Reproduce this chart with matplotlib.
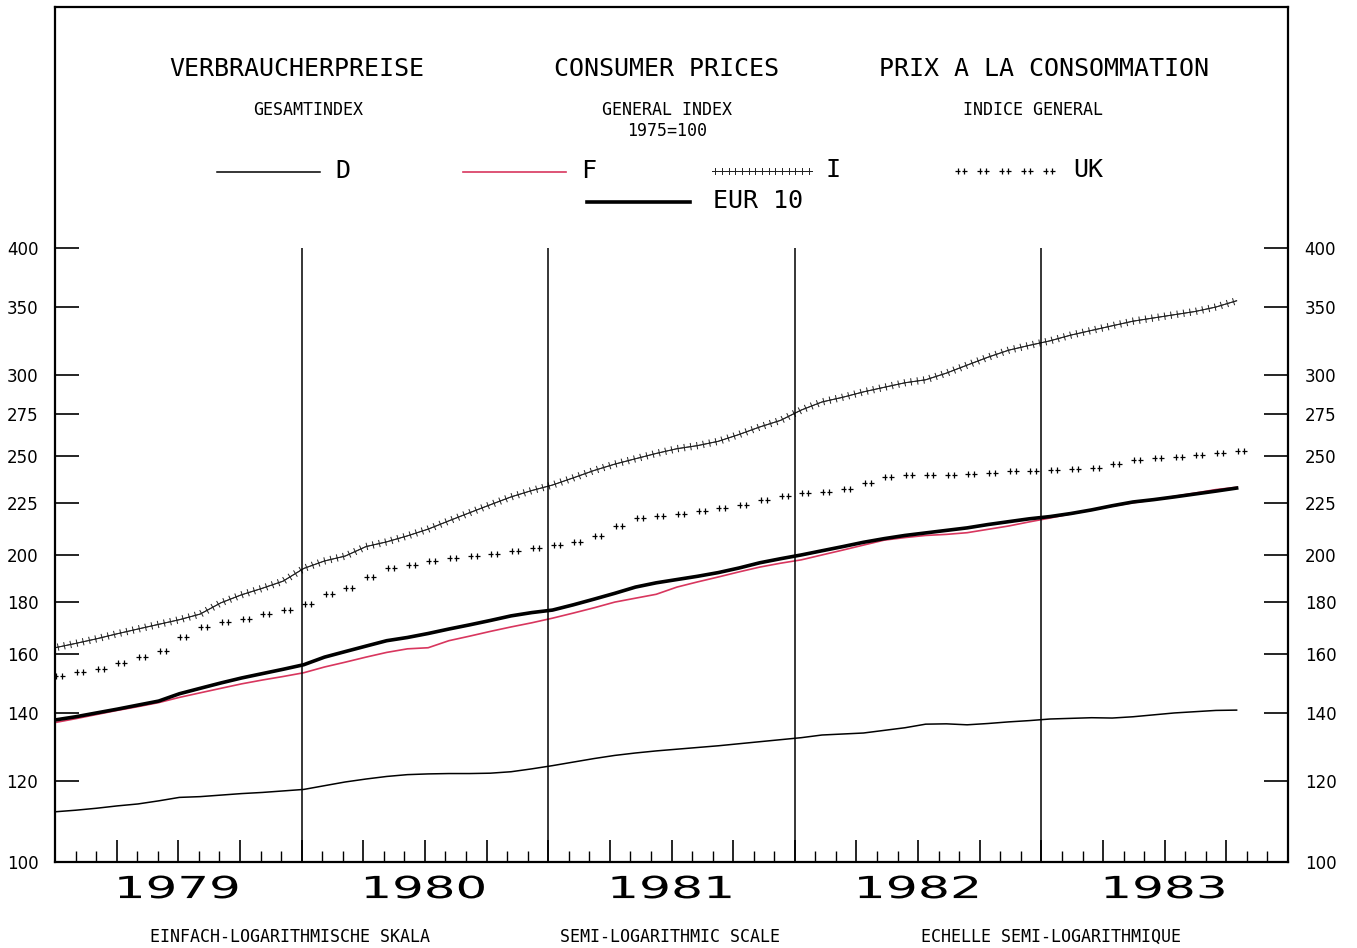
import numpy as np
import matplotlib
matplotlib.use("Agg")
import matplotlib.pyplot as plt
import matplotlib.patheffects as pe
from matplotlib.ticker import MultipleLocator, NullLocator
from matplotlib.textpath import TextPath
from matplotlib.patches import PathPatch
from matplotlib.path import Path
from matplotlib.font_manager import FontProperties
from matplotlib.transforms import Affine2D
from matplotlib.lines import Line2D

W, H = 1357, 948

# monthly index values, Jan 1979 .. Oct 1983 (1975 = 100)
d_vals = [112.0, 112.4, 112.9, 113.5, 114.0, 114.8, 115.7, 115.9, 116.3, 116.7,
          117.0, 117.4, 117.8, 118.8, 119.8, 120.6, 121.3, 121.8, 122.0, 122.1,
          122.1, 122.2, 122.6, 123.4, 124.3, 125.3, 126.3, 127.2, 127.9, 128.5,
          129.0, 129.5, 130.0, 130.6, 131.2, 131.8, 132.4, 133.2, 133.5, 133.8,
          134.6, 135.4, 136.5, 136.6, 136.3, 136.7, 137.2, 137.6, 138.1, 138.3,
          138.5, 138.4, 138.8, 139.4, 140.0, 140.4, 140.8, 140.9]
f_vals = [137.0, 138.2, 139.5, 140.8, 142.0, 143.3, 145.0, 146.5, 148.0, 149.5,
          150.8, 152.0, 153.3, 155.3, 157.0, 158.8, 160.5, 161.8, 162.2, 164.8,
          166.5, 168.3, 170.0, 171.6, 173.4, 175.4, 177.5, 179.8, 181.4, 183.0,
          186.0, 188.2, 190.3, 192.5, 194.6, 196.3, 197.8, 200.0, 202.2, 204.5,
          206.8, 208.0, 209.0, 209.5, 210.3, 211.9, 213.5, 215.5, 217.4, 219.4,
          221.3, 223.3, 225.0, 226.5, 228.3, 230.0, 231.8, 233.0]
i_vals = [162.2, 163.8, 165.5, 167.4, 169.2, 171.0, 172.8, 175.0, 179.5, 182.8,
          185.5, 188.5, 194.0, 197.3, 199.5, 203.8, 206.0, 208.8, 212.0, 216.0,
          220.0, 224.0, 228.0, 231.3, 234.2, 238.0, 242.0, 245.5, 248.5, 251.5,
          254.2, 256.0, 258.5, 262.5, 267.0, 271.0, 277.4, 282.5, 285.5, 289.0,
          292.0, 295.0, 297.0, 301.5, 307.0, 312.5, 317.5, 321.0, 324.3, 328.5,
          332.0, 335.5, 339.0, 341.5, 344.0, 346.5, 350.0, 355.0]
uk_vals = [152.2, 153.4, 154.7, 156.6, 158.8, 161.0, 166.0, 170.0, 171.9, 173.0,
           174.9, 176.6, 179.0, 183.2, 185.8, 190.5, 194.0, 195.7, 197.5, 198.6,
           199.6, 200.6, 201.9, 203.2, 204.4, 206.0, 208.6, 213.5, 217.2, 218.5,
           219.3, 220.8, 222.2, 224.1, 226.2, 228.3, 229.8, 230.3, 232.0, 235.2,
           238.5, 239.6, 239.7, 239.7, 240.0, 240.8, 241.8, 242.0, 242.2, 242.8,
           243.5, 245.6, 247.6, 248.8, 249.7, 250.7, 251.6, 252.8]
eur_vals = [137.8, 138.8, 140.0, 141.2, 142.5, 143.8, 146.2, 148.0, 149.8, 151.5,
            153.0, 154.5, 156.1, 158.8, 160.8, 162.8, 164.8, 166.0, 167.5, 169.2,
            170.8, 172.5, 174.3, 175.6, 176.6, 178.7, 181.0, 183.4, 186.0, 187.8,
            189.2, 190.6, 192.2, 194.2, 196.5, 198.3, 200.0, 201.9, 203.8, 205.8,
            207.5, 209.0, 210.2, 211.4, 212.6, 214.2, 215.6, 217.0, 218.1, 219.6,
            221.4, 223.5, 225.4, 226.6, 228.0, 229.5, 231.0, 232.6]

years = ["1979", "1980", "1981", "1982", "1983"]
y_ticks = [100, 120, 140, 160, 180, 200, 225, 250, 275, 300, 350, 400]

RED = "#d8365e"

# "+++++" chain for I: thin line with small cross ticks on both sides
plus_chain = [pe.withTickedStroke(angle=90, spacing=4.6, length=0.5),
              pe.withTickedStroke(angle=-90, spacing=4.6, length=0.5)]

# "++" pair marker for UK
pair = Path([(-2.3, 0), (-0.3, 0), (-1.3, -1), (-1.3, 1),
             (0.3, 0), (2.3, 0), (1.3, -1), (1.3, 1)],
            [Path.MOVETO, Path.LINETO] * 4)
uk_style = dict(ls="none", marker=pair, ms=8.5, mew=0.9, mfc="none",
                mec="black")

fig = plt.figure(figsize=(W / 100, H / 100), dpi=100)
ax = fig.add_axes([55 / W, 86 / H, 1233 / W, 855 / H])
ax.set_yscale("log")
ax.set_xlim(0, 60)
ax.set_ylim(100, 689)

x = np.arange(len(d_vals)) * 57.5 / 57

ax.plot(x, d_vals, color="black", lw=1.1)
ax.plot(x, f_vals, color=RED, lw=1.2)
ax.plot(x, eur_vals, color="black", lw=2.6)
ax.plot(x, i_vals, color="#222222", lw=0.7, path_effects=plus_chain)
ax.plot(x + 0.2, uk_vals, **uk_style)

# year separators
ax.vlines([12, 24, 36, 48], 100, 400, color="black", lw=1.1)

for s in ax.spines.values():
    s.set_linewidth(1.6)

ax.xaxis.set_major_locator(MultipleLocator(3))
ax.xaxis.set_minor_locator(MultipleLocator(1))
ax.tick_params(axis="x", which="major", direction="in", length=16, width=1.2,
               labelbottom=False)
ax.tick_params(axis="x", which="minor", direction="in", length=8, width=1.0)

ax.set_yticks(y_ticks, labels=[str(t) for t in y_ticks])
ax.yaxis.set_minor_locator(NullLocator())
ax.tick_params(axis="y", which="major", direction="in", length=17, width=1.2,
               left=True, right=True, labelleft=True, labelright=True,
               pad=12, labelsize=12)


def ftxt(px, py, s, **kw):
    kw.setdefault("ha", "center")
    fig.text(px / W, 1 - py / H, s, va="center", **kw)


mono = "DejaVu Sans Mono"
ftxt(297, 69, "VERBRAUCHERPREISE", family=mono, fontsize=18)
ftxt(666, 69, "CONSUMER PRICES", family=mono, fontsize=18)
ftxt(1044, 69, "PRIX A LA CONSOMMATION", family=mono, fontsize=18)
ftxt(308, 110, "GESAMTINDEX", family=mono, fontsize=12)
ftxt(667, 110, "GENERAL INDEX", family=mono, fontsize=12)
ftxt(667, 131, "1975=100", family=mono, fontsize=12)
ftxt(1033, 110, "INDICE GENERAL", family=mono, fontsize=12)

# legend
fig.add_artist(Line2D(np.array([217, 320]) / W, [1 - 172 / H] * 2, color="black", lw=1.1))
fig.add_artist(Line2D(np.array([463, 566]) / W, [1 - 172 / H] * 2, color=RED, lw=1.2))
fig.add_artist(Line2D(np.array([712, 812]) / W, [1 - 171 / H] * 2, color="#222222",
                      lw=0.7, path_effects=plus_chain))
ukx = np.array([961, 983, 1005, 1027, 1049])
fig.add_artist(Line2D(ukx / W, [1 - 171 / H] * len(ukx), **uk_style))
fig.add_artist(Line2D(np.array([587, 690]) / W, [1 - 202 / H] * 2, color="black", lw=2.6))
ftxt(335, 171, "D", family=mono, fontsize=18, ha="left")
ftxt(581, 171, "F", family=mono, fontsize=18, ha="left")
ftxt(826, 170, "I", family=mono, fontsize=18, ha="left")
ftxt(1073, 170, "UK", family=mono, fontsize=18, ha="left")
ftxt(713, 201, "EUR 10", family=mono, fontsize=18, ha="left")

# wide year labels under the axis
fp = FontProperties(family="DejaVu Sans")
for yr, m in zip(years, [6, 18, 30, 42, 54]):
    tp = TextPath((0, 0), yr, size=1, prop=fp)
    ext = tp.get_extents()
    px, _ = ax.transData.transform((m, 100))
    tr = (Affine2D()
          .translate(-(ext.x0 + ext.x1) / 2, -(ext.y0 + ext.y1) / 2)
          .scale(118 / ext.width, 23 / ext.height)
          .translate(px, H - 887))
    fig.add_artist(PathPatch(tp, transform=tr, facecolor="black", lw=0))

ftxt(290, 937, "EINFACH-LOGARITHMISCHE SKALA", family=mono, fontsize=12)
ftxt(670, 937, "SEMI-LOGARITHMIC SCALE", family=mono, fontsize=12)
ftxt(1051, 937, "ECHELLE SEMI-LOGARITHMIQUE", family=mono, fontsize=12)

fig.savefig("out.png", dpi=100)
